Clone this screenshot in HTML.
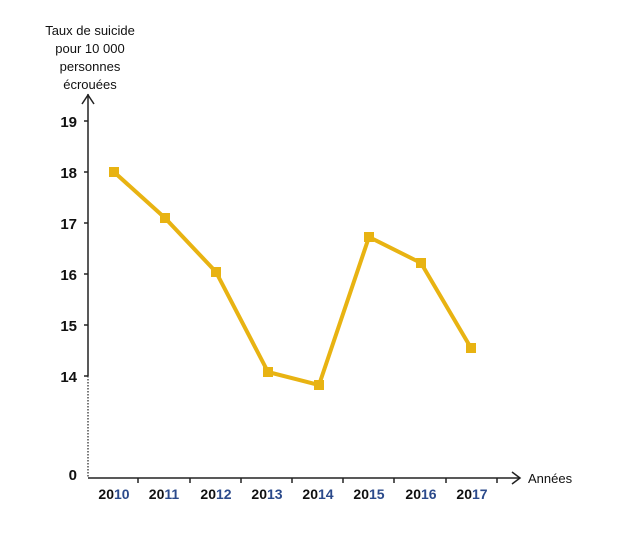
<!DOCTYPE html>
<html><head><style>body{margin:0;background:#fff}</style></head><body>
<svg width="618" height="548" xmlns="http://www.w3.org/2000/svg" font-family="Liberation Sans, sans-serif">
<g font-size="13" fill="#111" text-anchor="middle">
<text x="90" y="35">Taux de suicide</text>
<text x="90" y="53">pour 10 000</text>
<text x="90" y="71">personnes</text>
<text x="90" y="89">écrouées</text>
</g>
<line x1="88" y1="94" x2="88" y2="376" stroke="#222" stroke-width="1.5"/>
<polyline points="82,104 88,95 94,104" fill="none" stroke="#222" stroke-width="1.5"/>
<line x1="88" y1="376" x2="88" y2="478" stroke="#222" stroke-width="1.2" stroke-dasharray="1.5,1.5"/>
<line x1="88" y1="478" x2="520" y2="478" stroke="#222" stroke-width="1.5"/>
<polyline points="512,472 520,478 512,484" fill="none" stroke="#222" stroke-width="1.5"/>
<g stroke="#222" stroke-width="1.5">
<line x1="84" y1="121" x2="88" y2="121"/><line x1="84" y1="172" x2="88" y2="172"/>
<line x1="84" y1="223" x2="88" y2="223"/><line x1="84" y1="274" x2="88" y2="274"/>
<line x1="84" y1="325" x2="88" y2="325"/><line x1="84" y1="376" x2="88" y2="376"/>
<line x1="138" y1="478" x2="138" y2="483"/><line x1="190" y1="478" x2="190" y2="483"/>
<line x1="241" y1="478" x2="241" y2="483"/><line x1="292" y1="478" x2="292" y2="483"/>
<line x1="343" y1="478" x2="343" y2="483"/><line x1="394" y1="478" x2="394" y2="483"/>
<line x1="446" y1="478" x2="446" y2="483"/><line x1="497" y1="478" x2="497" y2="483"/>
</g>
<g font-size="15" fill="#111" text-anchor="end" font-weight="bold">
<text x="77" y="127">19</text><text x="77" y="178">18</text><text x="77" y="229">17</text>
<text x="77" y="280">16</text><text x="77" y="331">15</text><text x="77" y="382">14</text>
<text x="77" y="480">0</text>
</g>
<text x="528" y="483" font-size="13" fill="#111">Années</text>
<g font-size="14" font-weight="bold" fill="#111" text-anchor="middle">
<text x="114" y="499">20<tspan fill="#2b4a8b">10</tspan></text>
<text x="164" y="499">20<tspan fill="#2b4a8b">11</tspan></text>
<text x="216" y="499">20<tspan fill="#2b4a8b">12</tspan></text>
<text x="267" y="499">20<tspan fill="#2b4a8b">13</tspan></text>
<text x="318" y="499">20<tspan fill="#2b4a8b">14</tspan></text>
<text x="369" y="499">20<tspan fill="#2b4a8b">15</tspan></text>
<text x="421" y="499">20<tspan fill="#2b4a8b">16</tspan></text>
<text x="472" y="499">20<tspan fill="#2b4a8b">17</tspan></text>
</g>
<polyline points="114,172 165,218 216,272 268,372 319,385 369,237 421,263 471,348" fill="none" stroke="#e8b312" stroke-width="4" stroke-linejoin="round"/>
<g fill="#e8b312">
<rect x="109" y="167" width="10" height="10"/><rect x="160" y="213" width="10" height="10"/>
<rect x="211" y="267" width="10" height="10"/><rect x="263" y="367" width="10" height="10"/>
<rect x="314" y="380" width="10" height="10"/><rect x="364" y="232" width="10" height="10"/>
<rect x="416" y="258" width="10" height="10"/><rect x="466" y="343" width="10" height="10"/>
</g>
</svg>
</body></html>
